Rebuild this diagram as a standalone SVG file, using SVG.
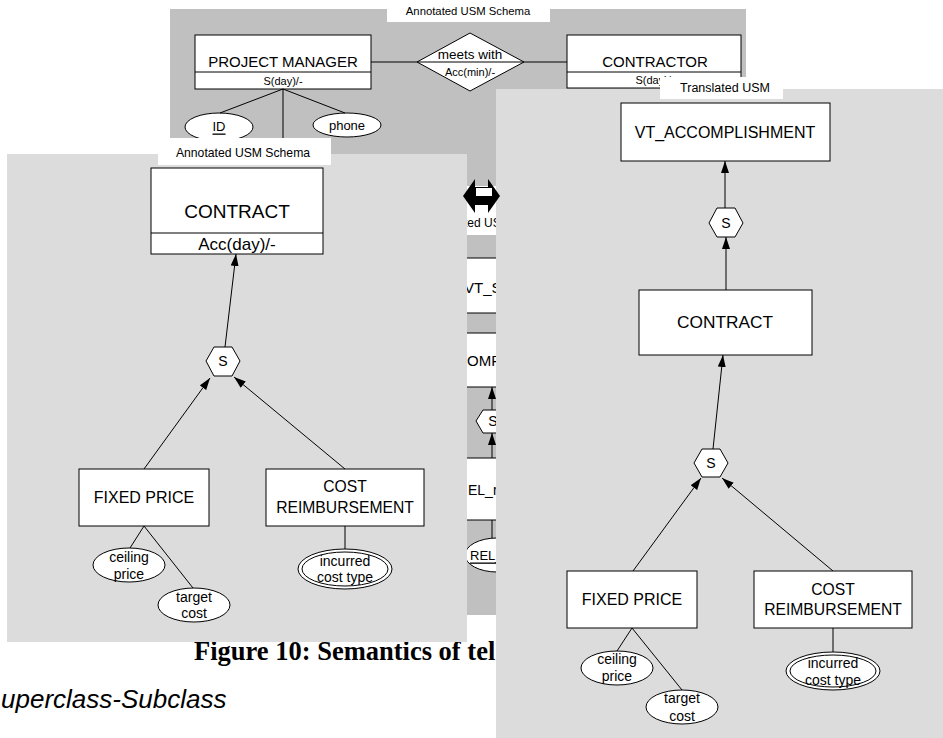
<svg xmlns="http://www.w3.org/2000/svg" width="943" height="738" viewBox="0 0 943 738">
<defs>
<style>
.t{font-family:"Liberation Sans",Arial,sans-serif;fill:#000;text-anchor:middle;dominant-baseline:central}
.s{font-family:"Liberation Sans",Arial,sans-serif;fill:#000;dominant-baseline:central}
.box{fill:#fff;stroke:#000;stroke-width:1}
.ln{stroke:#000;stroke-width:1;fill:none}
.back{fill:#c0c0c0}
.pane{fill:#dcdcdc}
.lbl{fill:#fff}
</style>
<marker id="ah" viewBox="0 0 12 8" refX="12" refY="4" markerWidth="12" markerHeight="8" markerUnits="userSpaceOnUse" orient="auto">
<path d="M0,0 L12,4 L0,8 z" fill="#000"/>
</marker>
</defs>
<rect width="943" height="738" fill="#fff"/>

<!-- back sheet: relationship schema -->
<g id="sheet-back">
<rect class="back" x="170" y="9" width="576" height="606"/>
<rect class="lbl" x="387" y="0" width="163" height="22"/>
<text class="t" x="468" y="11" font-size="11.3">Annotated USM Schema</text>

<g id="project-manager">
<rect class="box" x="195" y="35" width="176" height="54"/>
<line class="ln" x1="195" y1="72" x2="371" y2="72"/>
<text class="t" x="283" y="61" font-size="15">PROJECT MANAGER</text>
<text class="t" x="283" y="81" font-size="11">S(day)/-</text>
</g>
<g id="meets-with">
<polygon class="box" points="417,62 470,33 524,62 470,91"/>
<line class="ln" x1="417" y1="62" x2="524" y2="62"/>
<text class="t" x="470" y="54" font-size="13.5">meets with</text>
<text class="t" x="470" y="72" font-size="11">Acc(min)/-</text>
</g>
<g id="contractor">
<rect class="box" x="567" y="35" width="174" height="53"/>
<line class="ln" x1="567" y1="72" x2="741" y2="72"/>
<text class="t" x="655" y="61" font-size="15">CONTRACTOR</text>
<text class="t" x="655" y="80" font-size="11">S(day)/-</text>
</g>
<g id="pm-id">
<ellipse class="box" cx="219" cy="127" rx="34" ry="14"/>
<text class="t" x="219" y="126" font-size="13" text-decoration="underline">ID</text>
</g>
<g id="pm-phone">
<ellipse class="box" cx="347" cy="125" rx="34" ry="12"/>
<text class="t" x="347" y="125" font-size="13">phone</text>
</g>
<g id="back-connectors">
<line class="ln" x1="371" y1="62" x2="417" y2="62"/>
<line class="ln" x1="524" y1="62" x2="567" y2="62"/>
<line class="ln" x1="283" y1="89" x2="220" y2="113"/>
<line class="ln" x1="283" y1="89" x2="345" y2="113"/>
<line class="ln" x1="283" y1="89" x2="283" y2="140"/>
<line class="ln" x1="492" y1="410" x2="492" y2="387" marker-end="url(#ah)"/>
<line class="ln" x1="492" y1="458" x2="492" y2="433" marker-end="url(#ah)"/>
<line class="ln" x1="492" y1="520" x2="492" y2="538"/>
</g>
<g id="middle-label">
<rect class="lbl" x="440" y="186" width="90" height="49"/>
<text class="s" x="464" y="223" font-size="12">ted US</text>
</g>
<g id="vt-s">
<rect class="box" x="440" y="258" width="100" height="55"/>
<text class="s" x="464" y="287" font-size="15">VT_S</text>
</g>
<g id="omp">
<rect class="box" x="440" y="333" width="100" height="54"/>
<text class="s" x="467" y="360" font-size="15">OMP</text>
</g>
<g id="middle-s">
<polygon class="box" points="476,421 483,410 503,410 510,421 503,433 483,433"/>
<text class="t" x="493" y="421" font-size="14">S</text>
</g>
<g id="rel-r">
<rect class="box" x="440" y="458" width="100" height="62"/>
<text class="s" x="468" y="490" font-size="14">EL_r</text>
</g>
<g id="rel-attr">
<ellipse class="box" cx="497" cy="555" rx="32" ry="17"/>
<text class="s" x="470" y="555" font-size="13" text-decoration="underline">REL_</text>
</g>
</g>

<!-- captions on the page -->
<text x="194" y="660" font-family="Liberation Serif,'Times New Roman',serif" font-weight="bold" font-size="26.5">Figure 10: Semantics of tel</text>
<text x="1" y="708" font-family="Liberation Sans,Arial,sans-serif" font-style="italic" font-size="26">uperclass-Subclass</text>

<!-- left sheet: annotated superclass / subclass -->
<g id="sheet-left">
<rect class="pane" x="7" y="154" width="460" height="488"/>
<rect class="lbl" x="158" y="138" width="173" height="27"/>
<text class="t" x="243" y="153" font-size="12.2">Annotated USM Schema</text>
<g id="l-contract">
<rect class="box" x="151" y="168" width="172" height="86"/>
<line class="ln" x1="151" y1="233" x2="323" y2="233"/>
<text class="t" x="237" y="211" font-size="19">CONTRACT</text>
<text class="t" x="237" y="244" font-size="17">Acc(day)/-</text>
</g>
<g id="l-s">
<polygon class="box" points="206,361 214,347 232,347 240,361 232,376 214,376"/>
<text class="t" x="223" y="361" font-size="14">S</text>
</g>
<g id="l-fixed-price">
<rect class="box" x="79" y="469" width="130" height="57"/>
<text class="t" x="144" y="497" font-size="16">FIXED PRICE</text>
</g>
<g id="l-cost-reimbursement">
<rect class="box" x="266" y="469" width="158" height="57"/>
<text class="t" x="345" y="486" font-size="15.7">COST</text>
<text class="t" x="345" y="507" font-size="15.7">REIMBURSEMENT</text>
</g>
<g id="l-ceiling-price">
<ellipse class="box" cx="129" cy="565" rx="36" ry="17"/>
<text class="t" x="129" y="557" font-size="14">ceiling</text>
<text class="t" x="129" y="574" font-size="14">price</text>
</g>
<g id="l-target-cost">
<ellipse class="box" cx="194" cy="605" rx="36" ry="17"/>
<text class="t" x="194" y="597" font-size="14">target</text>
<text class="t" x="194" y="613" font-size="14">cost</text>
</g>
<g id="l-incurred-cost-type">
<ellipse class="box" cx="345" cy="569" rx="47" ry="20"/>
<ellipse class="ln" cx="345" cy="569" rx="43" ry="17"/>
<text class="t" x="345" y="561" font-size="14">incurred</text>
<text class="t" x="345" y="577" font-size="14">cost type</text>
</g>
<g id="l-connectors">
<line class="ln" x1="225" y1="347" x2="236" y2="254" marker-end="url(#ah)"/>
<line class="ln" x1="144" y1="469" x2="210" y2="378" marker-end="url(#ah)"/>
<line class="ln" x1="345" y1="469" x2="234" y2="377" marker-end="url(#ah)"/>
<line class="ln" x1="144" y1="526" x2="130" y2="548"/>
<line class="ln" x1="144" y1="526" x2="193" y2="588"/>
<line class="ln" x1="345" y1="526" x2="345" y2="549"/>
</g>
</g>

<!-- right sheet: translated schema -->
<g id="sheet-right">
<rect class="pane" x="496" y="89" width="447" height="649"/>
<rect class="lbl" x="660" y="77" width="123" height="22"/>
<text class="t" x="725" y="88" font-size="12.5">Translated USM</text>
<g id="r-vt-accomplishment">
<rect class="box" x="621" y="103" width="209" height="58"/>
<text class="t" x="725" y="132" font-size="16">VT_ACCOMPLISHMENT</text>
</g>
<g id="r-s1">
<polygon class="box" points="709,223 717,208 735,208 743,223 735,237 717,237"/>
<text class="t" x="726" y="223" font-size="14">S</text>
</g>
<g id="r-contract">
<rect class="box" x="639" y="290" width="173" height="65"/>
<text class="t" x="725" y="322" font-size="17.3">CONTRACT</text>
</g>
<g id="r-s2">
<polygon class="box" points="694,463 702,449 720,449 728,463 720,477 702,477"/>
<text class="t" x="711" y="463" font-size="14">S</text>
</g>
<g id="r-fixed-price">
<rect class="box" x="567" y="571" width="130" height="57"/>
<text class="t" x="632" y="599" font-size="16">FIXED PRICE</text>
</g>
<g id="r-cost-reimbursement">
<rect class="box" x="754" y="571" width="158" height="57"/>
<text class="t" x="833" y="589" font-size="15.7">COST</text>
<text class="t" x="833" y="609" font-size="15.7">REIMBURSEMENT</text>
</g>
<g id="r-ceiling-price">
<ellipse class="box" cx="617" cy="668" rx="36" ry="17"/>
<text class="t" x="617" y="659" font-size="14">ceiling</text>
<text class="t" x="617" y="676" font-size="14">price</text>
</g>
<g id="r-target-cost">
<ellipse class="box" cx="682" cy="707" rx="36" ry="17"/>
<text class="t" x="682" y="698" font-size="14">target</text>
<text class="t" x="682" y="716" font-size="14">cost</text>
</g>
<g id="r-incurred-cost-type">
<ellipse class="box" cx="833" cy="671" rx="47" ry="19"/>
<ellipse class="ln" cx="833" cy="671" rx="43" ry="16"/>
<text class="t" x="833" y="663" font-size="14">incurred</text>
<text class="t" x="833" y="680" font-size="14">cost type</text>
</g>
<g id="r-connectors">
<line class="ln" x1="725" y1="208" x2="725" y2="161" marker-end="url(#ah)"/>
<line class="ln" x1="726" y1="290" x2="726" y2="237" marker-end="url(#ah)"/>
<line class="ln" x1="713" y1="449" x2="723" y2="355" marker-end="url(#ah)"/>
<line class="ln" x1="633" y1="571" x2="701" y2="478" marker-end="url(#ah)"/>
<line class="ln" x1="833" y1="571" x2="722" y2="478" marker-end="url(#ah)"/>
<line class="ln" x1="632" y1="628" x2="617" y2="651"/>
<line class="ln" x1="632" y1="628" x2="682" y2="690"/>
<line class="ln" x1="833" y1="628" x2="833" y2="652"/>
</g>
</g>

<!-- double-headed block arrow between the sheets -->
<g id="transform-arrow">
<polygon fill="#000" points="463,196 475,179 475,187 488,187 488,179 500,196 488,213 488,205 475,205 475,213"/>
<rect fill="#fff" x="476" y="188" width="16" height="8"/>
</g>
</svg>
